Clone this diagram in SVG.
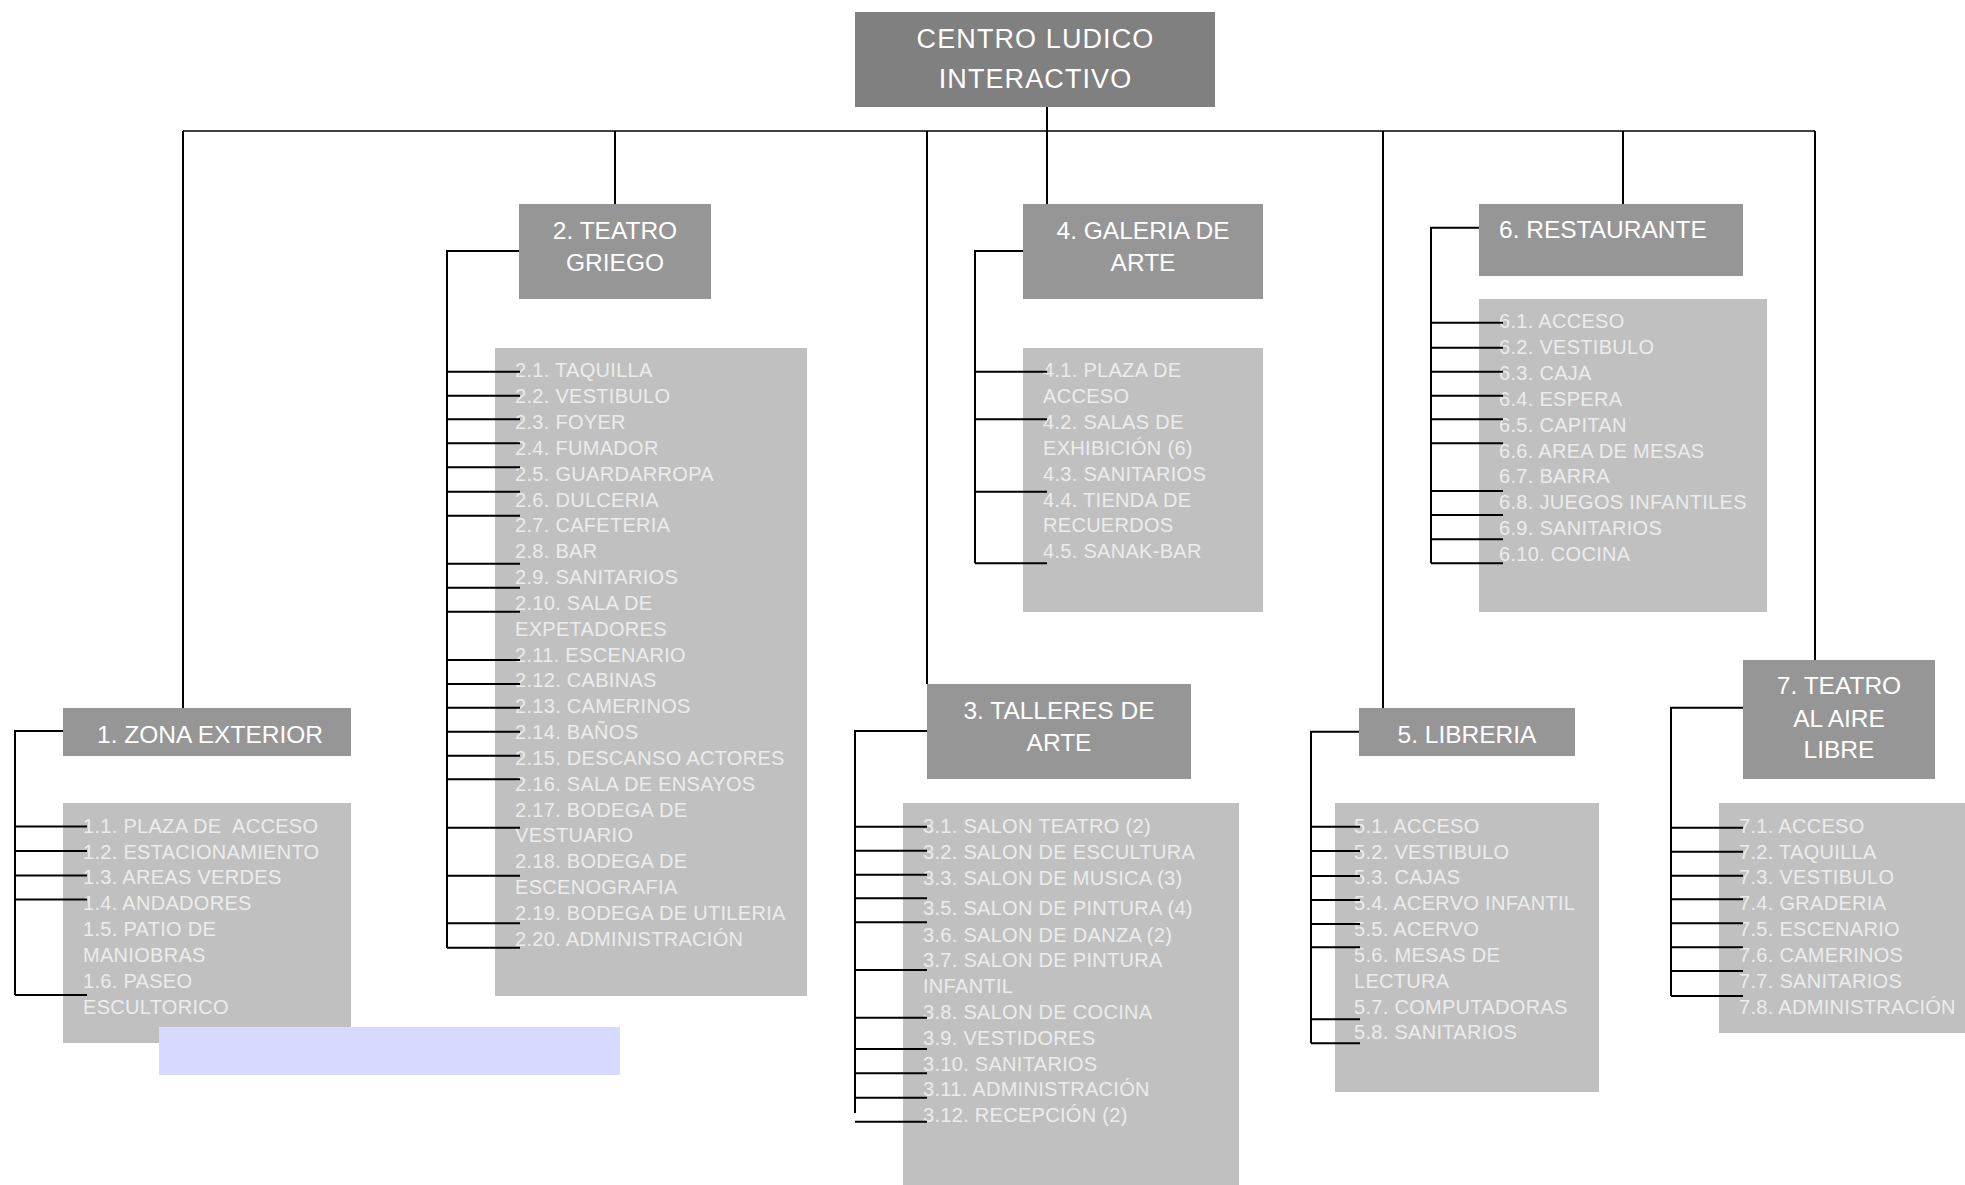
<svg xmlns="http://www.w3.org/2000/svg" width="1965" height="1185" viewBox="0 0 1965 1185">
  <style>
    text { font-family: "Liberation Sans", Arial, sans-serif; }
    .root { fill: #808080; }
    .hdr { fill: #969696; }
    .lst { fill: #c0c0c0; }
    .t-root { font-size: 27px; fill: #ffffff; letter-spacing: 1.1px; text-anchor: middle; }
    .t-hdr { font-size: 24.5px; fill: #ffffff; text-anchor: middle; }
    .t-item { font-size: 20px; fill: #ececec; letter-spacing: 0.3px; }
    .wire { fill: none; stroke: #000000; stroke-width: 2; }
    .bus { fill: none; stroke: #000000; stroke-width: 1.5; }
  </style>

  <!-- root -->
  <g id="root">
    <rect class="root" x="855" y="12" width="360" height="95"/>
    <text class="t-root" x="1035.5" y="48">CENTRO LUDICO</text>
    <text class="t-root" x="1035.5" y="88">INTERACTIVO</text>
  </g>

  <!-- 1. zona exterior -->
  <g id="zona-exterior">
    <rect class="hdr" x="63" y="708" width="288" height="48"/>
    <text class="t-hdr" x="210" y="743">1. ZONA EXTERIOR</text>
  </g>
  <g id="zona-exterior-list">
    <rect class="lst" x="63" y="803" width="288" height="240"/>
    <text class="t-item" x="83" y="832.7" xml:space="preserve">1.1. PLAZA DE  ACCESO</text>
    <text class="t-item" x="83" y="858.5">1.2. ESTACIONAMIENTO</text>
    <text class="t-item" x="83" y="884.4">1.3. AREAS VERDES</text>
    <text class="t-item" x="83" y="910.2">1.4. ANDADORES</text>
    <text class="t-item" x="83" y="936.1">1.5. PATIO DE</text>
    <text class="t-item" x="83" y="961.9">MANIOBRAS</text>
    <text class="t-item" x="83" y="987.7">1.6. PASEO</text>
    <text class="t-item" x="83" y="1013.6">ESCULTORICO</text>
  </g>

  <!-- 2. teatro griego -->
  <g id="teatro-griego">
    <rect class="hdr" x="519" y="204" width="192" height="95"/>
    <text class="t-hdr" x="615" y="239">2. TEATRO</text>
    <text class="t-hdr" x="615" y="271">GRIEGO</text>
  </g>
  <g id="teatro-griego-list">
    <rect class="lst" x="495" y="348" width="312" height="648"/>
    <text class="t-item" x="515" y="377.3">2.1. TAQUILLA</text>
    <text class="t-item" x="515" y="403.1">2.2. VESTIBULO</text>
    <text class="t-item" x="515" y="429.0">2.3. FOYER</text>
    <text class="t-item" x="515" y="454.8">2.4. FUMADOR</text>
    <text class="t-item" x="515" y="480.7">2.5. GUARDARROPA</text>
    <text class="t-item" x="515" y="506.5">2.6. DULCERIA</text>
    <text class="t-item" x="515" y="532.3">2.7. CAFETERIA</text>
    <text class="t-item" x="515" y="558.2">2.8. BAR</text>
    <text class="t-item" x="515" y="584.0">2.9. SANITARIOS</text>
    <text class="t-item" x="515" y="609.9">2.10. SALA DE</text>
    <text class="t-item" x="515" y="635.7">EXPETADORES</text>
    <text class="t-item" x="515" y="661.5">2.11. ESCENARIO</text>
    <text class="t-item" x="515" y="687.4">2.12. CABINAS</text>
    <text class="t-item" x="515" y="713.2">2.13. CAMERINOS</text>
    <text class="t-item" x="515" y="739.1">2.14. BAÑOS</text>
    <text class="t-item" x="515" y="764.9">2.15. DESCANSO ACTORES</text>
    <text class="t-item" x="515" y="790.7">2.16. SALA DE ENSAYOS</text>
    <text class="t-item" x="515" y="816.6">2.17. BODEGA DE</text>
    <text class="t-item" x="515" y="842.4">VESTUARIO</text>
    <text class="t-item" x="515" y="868.3">2.18. BODEGA DE</text>
    <text class="t-item" x="515" y="894.1">ESCENOGRAFIA</text>
    <text class="t-item" x="515" y="919.9">2.19. BODEGA DE UTILERIA</text>
    <text class="t-item" x="515" y="945.8">2.20. ADMINISTRACIÓN</text>
  </g>

  <!-- 3. talleres de arte -->
  <g id="talleres-de-arte">
    <rect class="hdr" x="927" y="684" width="264" height="95"/>
    <text class="t-hdr" x="1059" y="719.3">3. TALLERES DE</text>
    <text class="t-hdr" x="1059" y="750.7">ARTE</text>
  </g>
  <g id="talleres-de-arte-list">
    <rect class="lst" x="903" y="803" width="336" height="382"/>
    <text class="t-item" x="923" y="833.3">3.1. SALON TEATRO (2)</text>
    <text class="t-item" x="923" y="859.1">3.2. SALON DE ESCULTURA</text>
    <text class="t-item" x="923" y="884.9">3.3. SALON DE MUSICA (3)</text>
    <text class="t-item" x="923" y="915">3.5. SALON DE PINTURA (4)</text>
    <text class="t-item" x="923" y="941.5">3.6. SALON DE DANZA (2)</text>
    <text class="t-item" x="923" y="967.3">3.7. SALON DE PINTURA</text>
    <text class="t-item" x="923" y="993.1">INFANTIL</text>
    <text class="t-item" x="923" y="1018.9">3.8. SALON DE COCINA</text>
    <text class="t-item" x="923" y="1044.7">3.9. VESTIDORES</text>
    <text class="t-item" x="923" y="1070.5">3.10. SANITARIOS</text>
    <text class="t-item" x="923" y="1096.3">3.11. ADMINISTRACIÓN</text>
    <text class="t-item" x="923" y="1122.1">3.12. RECEPCIÓN (2)</text>
  </g>

  <!-- 4. galeria de arte -->
  <g id="galeria-de-arte">
    <rect class="hdr" x="1023" y="204" width="240" height="95"/>
    <text class="t-hdr" x="1143" y="239">4. GALERIA DE</text>
    <text class="t-hdr" x="1143" y="271">ARTE</text>
  </g>
  <g id="galeria-de-arte-list">
    <rect class="lst" x="1023" y="348" width="240" height="264"/>
    <text class="t-item" x="1043" y="377.3">4.1. PLAZA DE</text>
    <text class="t-item" x="1043" y="403.1">ACCESO</text>
    <text class="t-item" x="1043" y="429.0">4.2. SALAS DE</text>
    <text class="t-item" x="1043" y="454.8">EXHIBICIÓN (6)</text>
    <text class="t-item" x="1043" y="480.7">4.3. SANITARIOS</text>
    <text class="t-item" x="1043" y="506.5">4.4. TIENDA DE</text>
    <text class="t-item" x="1043" y="532.3">RECUERDOS</text>
    <text class="t-item" x="1043" y="558.2">4.5. SANAK-BAR</text>
  </g>

  <!-- 5. libreria -->
  <g id="libreria">
    <rect class="hdr" x="1359" y="708" width="216" height="48"/>
    <text class="t-hdr" x="1467" y="743.3">5. LIBRERIA</text>
  </g>
  <g id="libreria-list">
    <rect class="lst" x="1335" y="803" width="264" height="289"/>
    <text class="t-item" x="1354" y="832.7">5.1. ACCESO</text>
    <text class="t-item" x="1354" y="858.5">5.2. VESTIBULO</text>
    <text class="t-item" x="1354" y="884.4">5.3. CAJAS</text>
    <text class="t-item" x="1354" y="910.2">5.4. ACERVO INFANTIL</text>
    <text class="t-item" x="1354" y="936.1">5.5. ACERVO</text>
    <text class="t-item" x="1354" y="961.9">5.6. MESAS DE</text>
    <text class="t-item" x="1354" y="987.7">LECTURA</text>
    <text class="t-item" x="1354" y="1013.6">5.7. COMPUTADORAS</text>
    <text class="t-item" x="1354" y="1039.4">5.8. SANITARIOS</text>
  </g>

  <!-- 6. restaurante -->
  <g id="restaurante">
    <rect class="hdr" x="1479" y="204" width="264" height="72"/>
    <text class="t-hdr" x="1499" y="238.3" style="text-anchor:start">6. RESTAURANTE</text>
  </g>
  <g id="restaurante-list">
    <rect class="lst" x="1479" y="299" width="288" height="313"/>
    <text class="t-item" x="1499" y="328.3">6.1. ACCESO</text>
    <text class="t-item" x="1499" y="354.1">6.2. VESTIBULO</text>
    <text class="t-item" x="1499" y="380.0">6.3. CAJA</text>
    <text class="t-item" x="1499" y="405.8">6.4. ESPERA</text>
    <text class="t-item" x="1499" y="431.7">6.5. CAPITAN</text>
    <text class="t-item" x="1499" y="457.5">6.6. AREA DE MESAS</text>
    <text class="t-item" x="1499" y="483.3">6.7. BARRA</text>
    <text class="t-item" x="1499" y="509.2">6.8. JUEGOS INFANTILES</text>
    <text class="t-item" x="1499" y="535.0">6.9. SANITARIOS</text>
    <text class="t-item" x="1499" y="560.9">6.10. COCINA</text>
  </g>

  <!-- 7. teatro al aire libre -->
  <g id="teatro-aire-libre">
    <rect class="hdr" x="1743" y="660" width="192" height="119"/>
    <text class="t-hdr" x="1839" y="694">7. TEATRO</text>
    <text class="t-hdr" x="1839" y="726.7">AL AIRE</text>
    <text class="t-hdr" x="1839" y="758.3">LIBRE</text>
  </g>
  <g id="teatro-aire-libre-list">
    <rect class="lst" x="1719" y="803" width="246" height="230"/>
    <text class="t-item" x="1739" y="832.7">7.1. ACCESO</text>
    <text class="t-item" x="1739" y="858.5">7.2. TAQUILLA</text>
    <text class="t-item" x="1739" y="884.4">7.3. VESTIBULO</text>
    <text class="t-item" x="1739" y="910.2">7.4. GRADERIA</text>
    <text class="t-item" x="1739" y="936.1">7.5. ESCENARIO</text>
    <text class="t-item" x="1739" y="961.9">7.6. CAMERINOS</text>
    <text class="t-item" x="1739" y="987.7">7.7. SANITARIOS</text>
    <text class="t-item" x="1739" y="1013.6">7.8. ADMINISTRACIÓN</text>
  </g>

  <!-- highlight band -->
  <rect id="band" x="159" y="1027" width="461" height="48" fill="#d7d9ff"/>

  <!-- connectors -->
  <g id="connectors">
    <!-- main bus and drops -->
    <path class="bus" d="M183 131 H1815"/>
    <path class="wire" d="M1047 107 V204 M183 131 V708 M615 131 V204 M927 131 V684 M1383 131 V708 M1623 131 V204 M1815 131 V660"/>

    <!-- 1 -->
    <path class="wire" d="M63 731 H15 V995 M15 826.5 H87 M15 851 H87 M15 875.5 H87 M15 899.5 H87 M15 995 H87"/>

    <!-- 2 -->
    <path class="wire" d="M519 251 H447 V948 M447 371.7 H520 M447 395.7 H520 M447 419.3 H520 M447 443.3 H520 M447 467.3 H520 M447 491.7 H520 M447 515.7 H520 M447 563.7 H520 M447 587.7 H520 M447 611.7 H520 M447 660 H520 M447 684 H520 M447 707.7 H520 M447 731.7 H520 M447 755.7 H520 M447 779.3 H520 M447 827.7 H520 M447 875.7 H520 M447 923.3 H520 M447 947.7 H520"/>

    <!-- 3 -->
    <path class="wire" d="M927 731 H855 V1113 M855 826.7 H927 M855 850.7 H927 M855 874.7 H927 M855 898.3 H927 M855 922.3 H927 M855 970 H927 M855 1017.7 H927 M855 1049 H927 M855 1073.3 H927 M855 1097.7 H927 M855 1121.7 H927"/>

    <!-- 4 -->
    <path class="wire" d="M1023 251 H975 V563.3 M975 371.7 H1047 M975 419.3 H1047 M975 491.7 H1047 M975 563.3 H1047"/>

    <!-- 5 -->
    <path class="wire" d="M1359 731.7 H1311 V1043.3 M1311 826.7 H1360 M1311 851 H1360 M1311 876 H1360 M1311 900 H1360 M1311 924 H1360 M1311 947.3 H1360 M1311 1019.3 H1360 M1311 1043.3 H1360"/>

    <!-- 6 -->
    <path class="wire" d="M1479 227.7 H1431 V563.3 M1431 322.7 H1503 M1431 347.7 H1503 M1431 371.7 H1503 M1431 395.7 H1503 M1431 419.3 H1503 M1431 443.3 H1503 M1431 491 H1503 M1431 515 H1503 M1431 539.3 H1503 M1431 563.3 H1503"/>

    <!-- 7 -->
    <path class="wire" d="M1743 707.7 H1671 V996 M1671 827.7 H1743 M1671 851.7 H1743 M1671 875.7 H1743 M1671 899.3 H1743 M1671 923.3 H1743 M1671 947.3 H1743 M1671 971 H1743 M1671 996 H1743"/>
  </g>
</svg>
